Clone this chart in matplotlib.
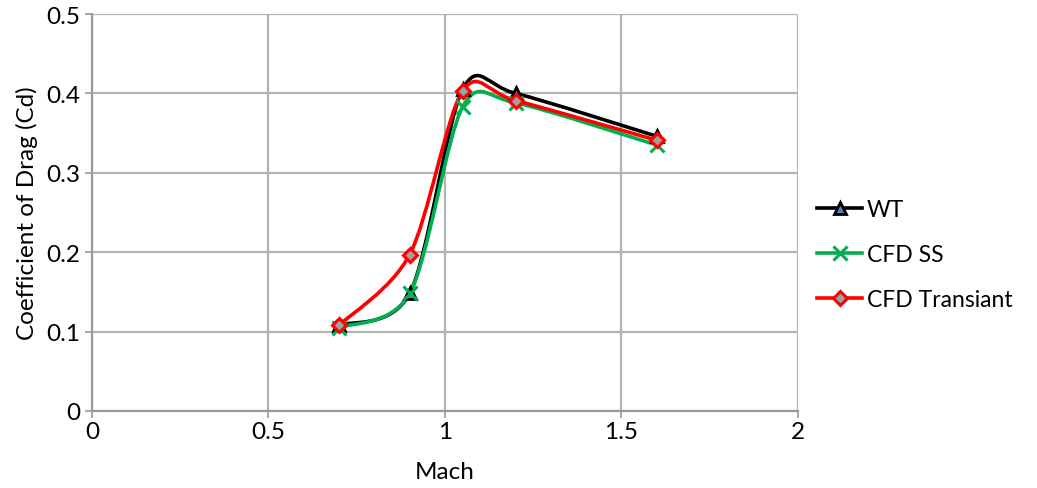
import numpy as np
import matplotlib
matplotlib.use("Agg")
import matplotlib.pyplot as plt
from matplotlib.path import Path
from matplotlib.patches import PathPatch
from matplotlib.lines import Line2D

mach = [0.7, 0.9, 1.05, 1.2, 1.6]
cd_wt = [0.108, 0.148, 0.405, 0.400, 0.346]
cd_ss = [0.105, 0.148, 0.383, 0.388, 0.335]
cd_tr = [0.108, 0.197, 0.403, 0.391, 0.341]

plt.rcParams['font.family'] = ['Lato', 'DejaVu Sans']

fig = plt.figure(figsize=(10.37, 4.89), dpi=100)
ax = fig.add_axes([0.0887, 0.1575, 0.6808, 0.8118])
ax.set_xlim(0, 2)
ax.set_ylim(0, 0.5)
ax.set_xticks([0, 0.5, 1, 1.5, 2])
ax.set_xticklabels(['0', '0.5', '1', '1.5', '2'])
ax.set_yticks([0, 0.1, 0.2, 0.3, 0.4, 0.5])
ax.set_yticklabels(['0', '0.1', '0.2', '0.3', '0.4', '0.5'])
ax.grid(True, color='#b3b3b3', linewidth=1.6)
ax.set_axisbelow(True)
for s in ['top', 'right']:
    ax.spines[s].set_visible(False)
for s in ['left', 'bottom']:
    ax.spines[s].set_color('#9a9a9a')
    ax.spines[s].set_linewidth(1.6)
ax.tick_params(colors='#9a9a9a', labelcolor='black', labelsize=17.5, length=5, width=1.2)
ax.tick_params(axis='x', pad=2)
ax.set_xlabel('Mach', fontsize=17.5, labelpad=14)
ax.set_ylabel('Coefficient of Drag (Cd)', fontsize=17.5, labelpad=6)


def smooth(x, y, color, z):
    # Excel-like smoothed line: Bezier with control points from neighbours, in display space
    pts = ax.transData.transform(np.column_stack([x, y]))
    n = len(pts)
    verts = [pts[0]]
    codes = [Path.MOVETO]
    t = 0.15
    for i in range(n - 1):
        p0 = pts[i - 1] if i > 0 else pts[i]
        p1 = pts[i]
        p2 = pts[i + 1]
        p3 = pts[i + 2] if i + 2 < n else pts[i + 1]
        c1 = p1 + (p2 - p0) * t
        c2 = p2 - (p3 - p1) * t
        verts += [c1, c2, p2]
        codes += [Path.CURVE4] * 3
    verts = ax.transData.inverted().transform(np.array(verts))
    ax.add_patch(PathPatch(Path(verts, codes), fill=False, edgecolor=color,
                           linewidth=2.6, zorder=z))


smooth(mach, cd_wt, 'black', 3)
smooth(mach, cd_ss, '#00b050', 4)
smooth(mach, cd_tr, '#ff0000', 5)

ax.plot(mach, cd_wt, linestyle='none', marker='^', markersize=8,
        markerfacecolor='#4f81bd', markeredgecolor='black', markeredgewidth=2, zorder=6)
ax.plot(mach, cd_ss, linestyle='none', marker='x', markersize=10,
        markeredgecolor='#00b050', markeredgewidth=2.2, zorder=7)
ax.plot(mach, cd_tr, linestyle='none', marker='D', markersize=7,
        markerfacecolor='#a0a0a0', markeredgecolor='#ff0000', markeredgewidth=2.2, zorder=8)

handles = [
    Line2D([], [], color='black', linewidth=2.6, marker='^', markersize=8,
           markerfacecolor='#4f81bd', markeredgecolor='black', markeredgewidth=2),
    Line2D([], [], color='#00b050', linewidth=2.6, marker='x', markersize=10,
           markeredgecolor='#00b050', markeredgewidth=2.2),
    Line2D([], [], color='#ff0000', linewidth=2.6, marker='D', markersize=7,
           markerfacecolor='#a0a0a0', markeredgecolor='#ff0000', markeredgewidth=2.2),
]
fig.legend(handles, ['WT', 'CFD SS', 'CFD Transiant'], loc='center left',
           bbox_to_anchor=(0.772, 0.478), frameon=False, fontsize=16.5,
           handlelength=2.0, handletextpad=0.2, labelspacing=1.05, borderpad=0.2)

fig.savefig('out.png', dpi=100)
